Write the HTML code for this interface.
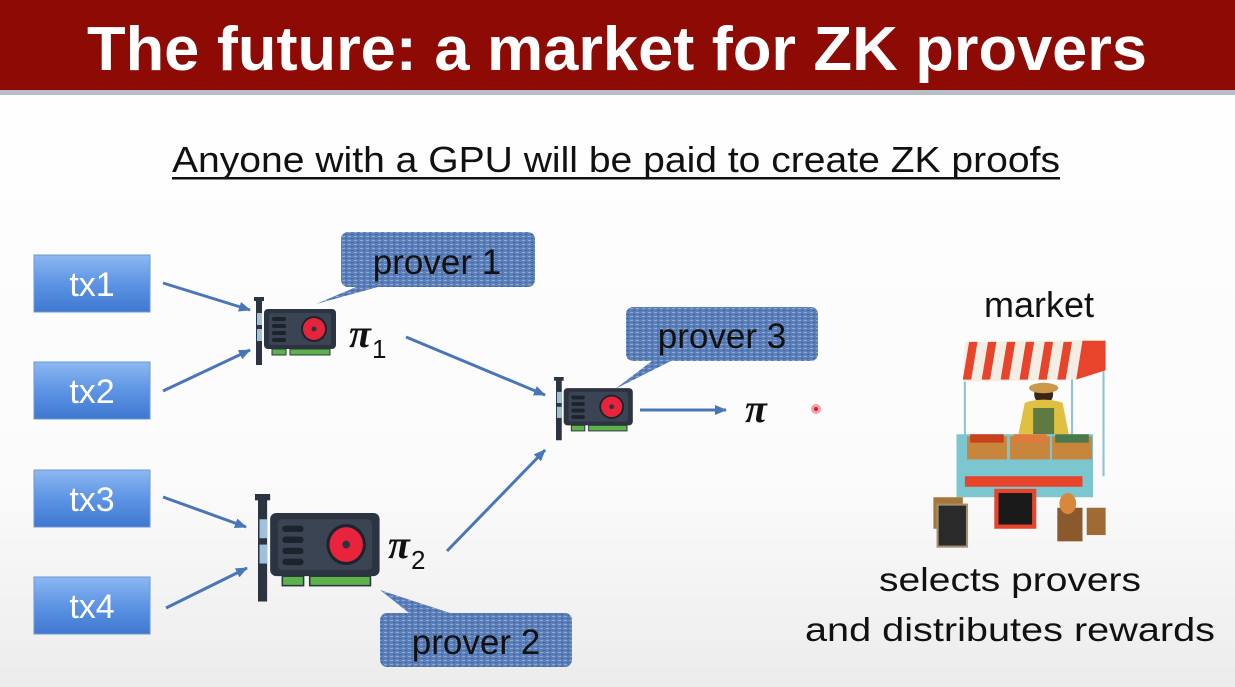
<!DOCTYPE html>
<html><head><meta charset="utf-8"><style>
html,body{margin:0;padding:0;width:1235px;height:687px;overflow:hidden;background:#fff}
svg{display:block}
</style></head><body>
<svg width="1235" height="687" viewBox="0 0 1235 687" xmlns="http://www.w3.org/2000/svg" font-family="Liberation Sans, sans-serif">
<defs>
<linearGradient id="bg" x1="0" y1="0" x2="0" y2="1">
<stop offset="0" stop-color="#ffffff"/><stop offset="0.7" stop-color="#fbfbfb"/><stop offset="1" stop-color="#ececec"/>
</linearGradient>
<linearGradient id="tx" x1="0" y1="0" x2="0" y2="1">
<stop offset="0" stop-color="#8db8f2"/><stop offset="0.5" stop-color="#5d94e4"/><stop offset="1" stop-color="#3f78d0"/>
</linearGradient>
<pattern id="tex" width="6" height="4" patternUnits="userSpaceOnUse">
<rect width="6" height="4" fill="#5b7fb8"/>
<rect x="0" y="0" width="3" height="1" fill="#8ea9d6"/>
<rect x="3" y="2" width="2" height="1" fill="#3e5f98"/>
</pattern>
<marker id="ah" markerWidth="12" markerHeight="10" refX="11" refY="5" orient="auto" markerUnits="userSpaceOnUse">
<path d="M0,0 L12,5 L0,10 z" fill="#4a76b8"/>
</marker>
<g id="gpu">
<path d="M0,2 h6 v66 h-6 z" fill="#2b3440"/>
<rect x="-2" y="0" width="10" height="4" fill="#2b3440"/>
<rect x="1" y="16" width="5" height="12" fill="#9fc1dc"/>
<rect x="1" y="32" width="5" height="12" fill="#9fc1dc"/>
<rect x="8" y="12" width="72" height="40" rx="4" fill="#2b3440"/>
<rect x="13" y="16" width="62" height="32" rx="3" fill="#3a4452"/>
<rect x="16" y="20" width="14" height="4" rx="2" fill="#1c232c"/>
<rect x="16" y="27" width="14" height="4" rx="2" fill="#1c232c"/>
<rect x="16" y="34" width="14" height="4" rx="2" fill="#1c232c"/>
<rect x="16" y="41" width="14" height="4" rx="2" fill="#1c232c"/>
<circle cx="58" cy="32" r="13" fill="#1c232c"/>
<circle cx="58" cy="32" r="11" fill="#e8243c"/>
<circle cx="58" cy="32" r="2.5" fill="#2b3440"/>
<rect x="16" y="52" width="14" height="6" fill="#5db34a" stroke="#2b3440" stroke-width="1"/>
<rect x="34" y="52" width="40" height="6" fill="#5db34a" stroke="#2b3440" stroke-width="1"/>
</g>
</defs>
<rect width="1235" height="687" fill="url(#bg)"/>
<rect x="0" y="0" width="1235" height="90" fill="#8e0a04"/>
<rect x="0" y="90" width="1235" height="5" fill="#b8bec6"/>
<text x="617" y="70" text-anchor="middle" font-size="62" font-weight="bold" fill="#fff" textLength="1060" lengthAdjust="spacingAndGlyphs">The future:  a market for ZK provers</text>
<text x="616" y="172" text-anchor="middle" font-size="36" fill="#111" textLength="888" lengthAdjust="spacingAndGlyphs">Anyone with a GPU will be paid to create ZK proofs</text>
<rect x="172" y="177" width="888" height="2.5" fill="#111"/>
<g font-size="34" fill="#fff" text-anchor="middle">
<rect x="34" y="255" width="116" height="57" fill="url(#tx)" stroke="#6d98d0"/>
<text x="92" y="296">tx1</text>
<rect x="34" y="362" width="116" height="57" fill="url(#tx)" stroke="#6d98d0"/>
<text x="92" y="403">tx2</text>
<rect x="34" y="470" width="116" height="57" fill="url(#tx)" stroke="#6d98d0"/>
<text x="92" y="511">tx3</text>
<rect x="34" y="577" width="116" height="57" fill="url(#tx)" stroke="#6d98d0"/>
<text x="92" y="618">tx4</text>
</g>
<g stroke="#4a76b8" stroke-width="3" fill="none" marker-end="url(#ah)">
<line x1="163" y1="283" x2="250" y2="310"/>
<line x1="163" y1="391" x2="250" y2="350"/>
<line x1="163" y1="497" x2="246" y2="527"/>
<line x1="166" y1="608" x2="247" y2="568"/>
<line x1="406" y1="337" x2="545" y2="395"/>
<line x1="447" y1="551" x2="545" y2="450"/>
<line x1="640" y1="410" x2="726" y2="410"/>
</g>
<use href="#gpu" transform="translate(256,297)"/>
<use href="#gpu" transform="translate(556,377) scale(0.96,0.93)"/>
<use href="#gpu" transform="translate(258,494) scale(1.52,1.58)"/>
<path d="M348,232 h180 a7,7 0 0 1 7,7 v41 a7,7 0 0 1 -7,7 h-150 L316,304 L356,287 h-8 a7,7 0 0 1 -7,-7 v-41 a7,7 0 0 1 7,-7z" fill="url(#tex)"/>
<text x="437" y="274" text-anchor="middle" font-size="35" fill="#111">prover 1</text>
<path d="M633,307 h178 a7,7 0 0 1 7,7 v40 a7,7 0 0 1 -7,7 h-140 L615,389 L652,361 h-19 a7,7 0 0 1 -7,-7 v-40 a7,7 0 0 1 7,-7z" fill="url(#tex)"/>
<text x="722" y="348" text-anchor="middle" font-size="35" fill="#111">prover 3</text>
<path d="M387,613 h22 L380,590 L450,613 h115 a7,7 0 0 1 7,7 v40 a7,7 0 0 1 -7,7 h-178 a7,7 0 0 1 -7,-7 v-40 a7,7 0 0 1 7,-7z" fill="url(#tex)"/>
<text x="476" y="654" text-anchor="middle" font-size="35" fill="#111">prover 2</text>
<g font-family="Liberation Serif, serif" font-style="italic" font-weight="bold" fill="#111">
<text x="349" y="347" font-size="40">π</text><text x="372" y="358" font-size="26" font-style="normal" font-weight="normal" font-family="Liberation Sans, sans-serif">1</text>
<text x="388" y="558" font-size="40">π</text><text x="411" y="569" font-size="26" font-style="normal" font-weight="normal" font-family="Liberation Sans, sans-serif">2</text>
<text x="745" y="422" font-size="40">π</text>
</g>
<circle cx="816" cy="409" r="5" fill="#f4a0a8"/><circle cx="816" cy="409" r="2" fill="#d42030"/>
<text x="1039" y="317" text-anchor="middle" font-size="36" fill="#111">market</text>
<g transform="translate(1030,450) scale(1.05) translate(-1030,-445)">
<line x1="968" y1="375" x2="968" y2="470" stroke="#8fc4d8" stroke-width="2"/>
<line x1="1070" y1="375" x2="1070" y2="470" stroke="#8fc4d8" stroke-width="2"/>
<line x1="1100" y1="365" x2="1100" y2="470" stroke="#8fc4d8" stroke-width="2"/>
<path d="M968,342 L1102,340 L1102,368 L1070,378 L966,380 z" fill="#f3eee4"/>
<g fill="#e8442c">
<path d="M972,342 l8,0 l-6,36 l-8,0z"/><path d="M990,342 l8,0 l-6,36 l-8,0z"/><path d="M1008,342 l8,0 l-6,36 l-8,0z"/><path d="M1026,342 l8,0 l-6,36 l-8,0z"/><path d="M1044,342 l8,0 l-6,36 l-8,0z"/><path d="M1062,342 l8,0 l-6,36 l-8,0z"/><path d="M1080,341 l22,0 l0,28 l-28,9z"/>
</g>
<circle cx="1043" cy="392" r="9" fill="#3a2418"/><ellipse cx="1043" cy="386" rx="14" ry="5" fill="#c99a4a"/>
<path d="M1025,400 q18,-6 36,0 l6,30 h-48z" fill="#e0c040"/>
<rect x="1033" y="405" width="20" height="25" fill="#5e7a40"/>
<rect x="960" y="430" width="130" height="60" fill="#7cc6cf"/>
<rect x="970" y="432" width="38" height="22" fill="#c8863c"/><rect x="973" y="430" width="32" height="8" fill="#c8401c"/>
<rect x="1011" y="432" width="38" height="22" fill="#c8863c"/><rect x="1014" y="430" width="32" height="8" fill="#e07a3c"/>
<rect x="1051" y="432" width="38" height="22" fill="#c8863c"/><rect x="1054" y="430" width="32" height="8" fill="#4a7a4c"/>
<rect x="968" y="470" width="112" height="10" fill="#e8442c"/>
<rect x="996" y="482" width="40" height="38" fill="#e8442c"/><rect x="1000" y="486" width="32" height="30" fill="#1a1a1a"/>
<rect x="938" y="490" width="28" height="30" fill="#a8763a"/>
<rect x="942" y="497" width="28" height="40" fill="#2a2a2a" stroke="#a09070" stroke-width="2"/>
<rect x="1056" y="500" width="24" height="32" fill="#8a5a2c"/>
<rect x="1084" y="500" width="18" height="26" fill="#a06a34"/>
<ellipse cx="1066" cy="496" rx="8" ry="10" fill="#d8883a"/>
</g>
<text x="1010" y="591" text-anchor="middle" font-size="33" fill="#111" textLength="262" lengthAdjust="spacingAndGlyphs">selects provers</text>
<text x="1010" y="641" text-anchor="middle" font-size="33" fill="#111" textLength="410" lengthAdjust="spacingAndGlyphs">and distributes rewards</text>
</svg>
</body></html>
